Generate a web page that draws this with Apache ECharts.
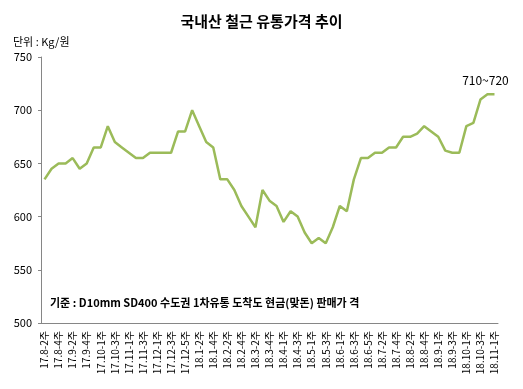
<!DOCTYPE html>
<html>
<head>
<meta charset="utf-8">
<script src="https://cdn.jsdelivr.net/npm/echarts@6/dist/echarts.min.js"></script>
<style>
html,body{margin:0;padding:0;background:#fff;}
#c{width:523px;height:389px;}
</style>
</head>
<body>
<div id="c"></div>
<script>
var categories = [
 '17.8-2주','17.8-3주','17.8-4주','17.9-1주','17.9-2주','17.9-3주','17.9-4주','17.9-5주',
 '17.10-1주','17.10-2주','17.10-3주','17.10-4주','17.11-1주','17.11-2주','17.11-3주','17.11-4주',
 '17.12-1주','17.12-2주','17.12-3주','17.12-4주','17.12-5주','18.1-1주','18.1-2주','18.1-3주',
 '18.1-4주','18.2-1주','18.2-2주','18.2-3주','18.2-4주','18.3-1주','18.3-2주','18.3-3주',
 '18.3-4주','18.3-5주','18.4-1주','18.4-2주','18.4-3주','18.4-4주','18.5-1주','18.5-2주',
 '18.5-3주','18.5-4주','18.6-1주','18.6-2주','18.6-3주','18.6-4주','18.6-5주','18.7-1주',
 '18.7-2주','18.7-3주','18.7-4주','18.8-1주','18.8-2주','18.8-3주','18.8-4주','18.8-5주',
 '18.9-1주','18.9-2주','18.9-3주','18.9-4주','18.10-1주','18.10-2주','18.10-3주','18.10-4주',
 '18.11-1주'
];
var prices = [
 635,645,650,650,655,645,650,665,
 665,685,670,665,660,655,655,660,
 660,660,660,680,680,700,685,670,
 665,635,635,625,610,600,590,625,
 615,610,595,605,600,585,575,580,
 575,590,610,605,635,655,655,660,
 660,665,665,675,675,678,685,680,
 675,662,660,660,685,688,710,715,
 715
];
var yTicks = {min: 500, max: 750, interval: 50};
var titleText = '국내산 철근 유통가격 추이';
var unitText = '단위 : Kg/원';
var noteText = '기준 : D10mm SD400 수도권 1차유통 도착도 현금(맞돈) 판매가 격';
var rangeLabel = '710~720';

var FONT = '"Noto Sans CJK KR", "Noto Sans", sans-serif';
var chart = echarts.init(document.getElementById('c'), null, {renderer: 'canvas'});
chart.setOption({
  animation: false,
  backgroundColor: '#fff',
  title: {
    text: titleText,
    left: 'center',
    top: 9,
    textStyle: {fontFamily: FONT, fontSize: 15, fontWeight: 'bold', color: '#000'}
  },
  grid: {left: 41, right: 25, top: 57, bottom: 66, containLabel: false},
  graphic: [
    {type: 'text', left: 13, top: 36, style: {text: unitText, font: '11px ' + FONT, fill: '#000'}},
    {type: 'text', left: 50, top: 297, style: {text: noteText, font: 'bold 11px ' + FONT, fill: '#000'}}
  ],
  xAxis: {
    type: 'category',
    data: categories,
    boundaryGap: true,
    axisLine: {show: true, lineStyle: {color: '#868686', width: 1}},
    axisTick: {show: false},
    axisLabel: {
      interval: 1,
      rotate: 90,
      margin: 8,
      fontSize: 10,
      fontFamily: FONT,
      color: '#000'
    },
    splitLine: {show: false}
  },
  yAxis: {
    type: 'value',
    min: yTicks.min,
    max: yTicks.max,
    interval: yTicks.interval,
    axisLine: {show: true, lineStyle: {color: '#868686', width: 1}},
    axisTick: {show: true, length: 3, lineStyle: {color: '#868686'}},
    axisLabel: {fontSize: 11, fontFamily: FONT, color: '#000', margin: 9},
    splitLine: {show: false}
  },
  series: [{
    type: 'line',
    data: prices,
    symbol: 'none',
    lineStyle: {color: '#9BBB59', width: 2.5},
    itemStyle: {color: '#9BBB59'},
    markPoint: {
      symbol: 'circle',
      symbolSize: 1,
      itemStyle: {color: 'rgba(0,0,0,0)'},
      label: {
        show: true,
        position: 'inside',
        offset: [-2, -14],
        formatter: rangeLabel,
        fontSize: 12,
        fontFamily: FONT,
        color: '#000'
      },
      data: [{coord: [categories[63], prices[63]]}]
    }
  }]
});
</script>
</body>
</html>
